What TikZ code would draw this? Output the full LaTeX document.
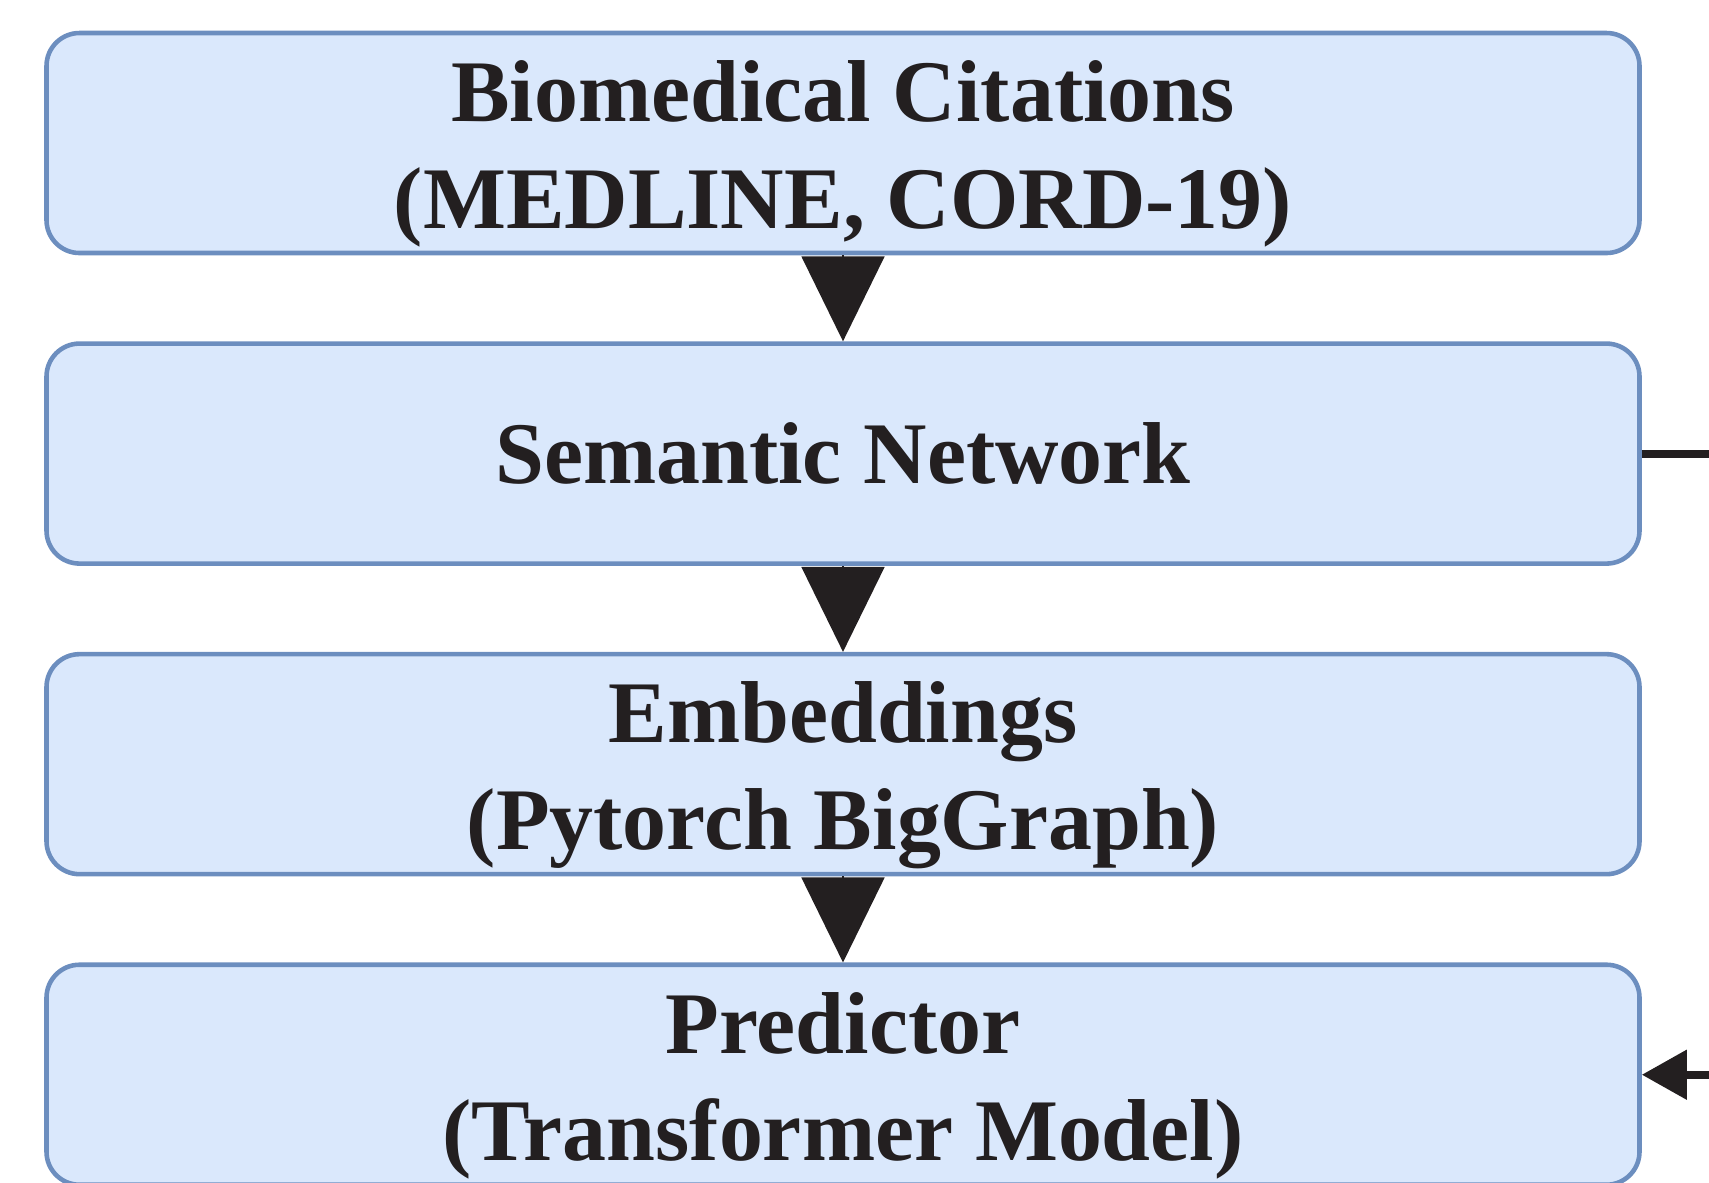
\documentclass[tikz,border=0pt]{standalone}
\usepackage{xcolor}
\usepackage{fontspec}
\setmainfont{Liberation Serif}
\usepackage{tikz}
\usetikzlibrary{arrows.meta, positioning}

\definecolor{boxfill}{HTML}{DAE8FC}
\definecolor{boxline}{HTML}{6C8EBF}
\definecolor{ink}{HTML}{231F20}

\begin{document}
\begin{tikzpicture}[node distance=0.86cm, >=Stealth,
    stage/.style={rectangle, rounded corners=0.33cm, draw=boxline, line width=1.3pt, fill=boxfill,
        minimum width=15.93cm, minimum height=2.2cm, inner sep=2pt, align=center, text=ink,
        font=\fontsize{25}{30.5}\selectfont\bfseries},
    twoline/.style={text height=48.8pt, text depth=0pt},
    flow/.style={-{Triangle[length=0.85cm, width=0.83cm]}, ink, line width=0.5pt},
    feed/.style={-{Triangle[length=0.45cm, width=0.48cm]}, ink, line width=2.3pt}]
    \useasboundingbox (0,0) rectangle (17.09,-11.82);

    \node[stage, twoline] (citations) at (8.43,-1.43) {Biomedical Citations\\(MEDLINE, CORD-19)};
    \node[stage, below=of citations] (network) {Semantic Network};
    \node[stage, twoline, below=of network] (embeddings) {Embeddings\\(Pytorch BigGraph)};
    \node[stage, twoline, below=of embeddings] (predictor) {Predictor\\(Transformer Model)};

    \draw[flow] (citations) -- (network);
    \draw[flow] (network) -- (embeddings);
    \draw[flow] (embeddings) -- (predictor);
    % loop back on the right, mostly outside the page
    \draw[feed] (network.east) -- ++(1.2,0) |- (predictor.east);
\end{tikzpicture}
\end{document}
